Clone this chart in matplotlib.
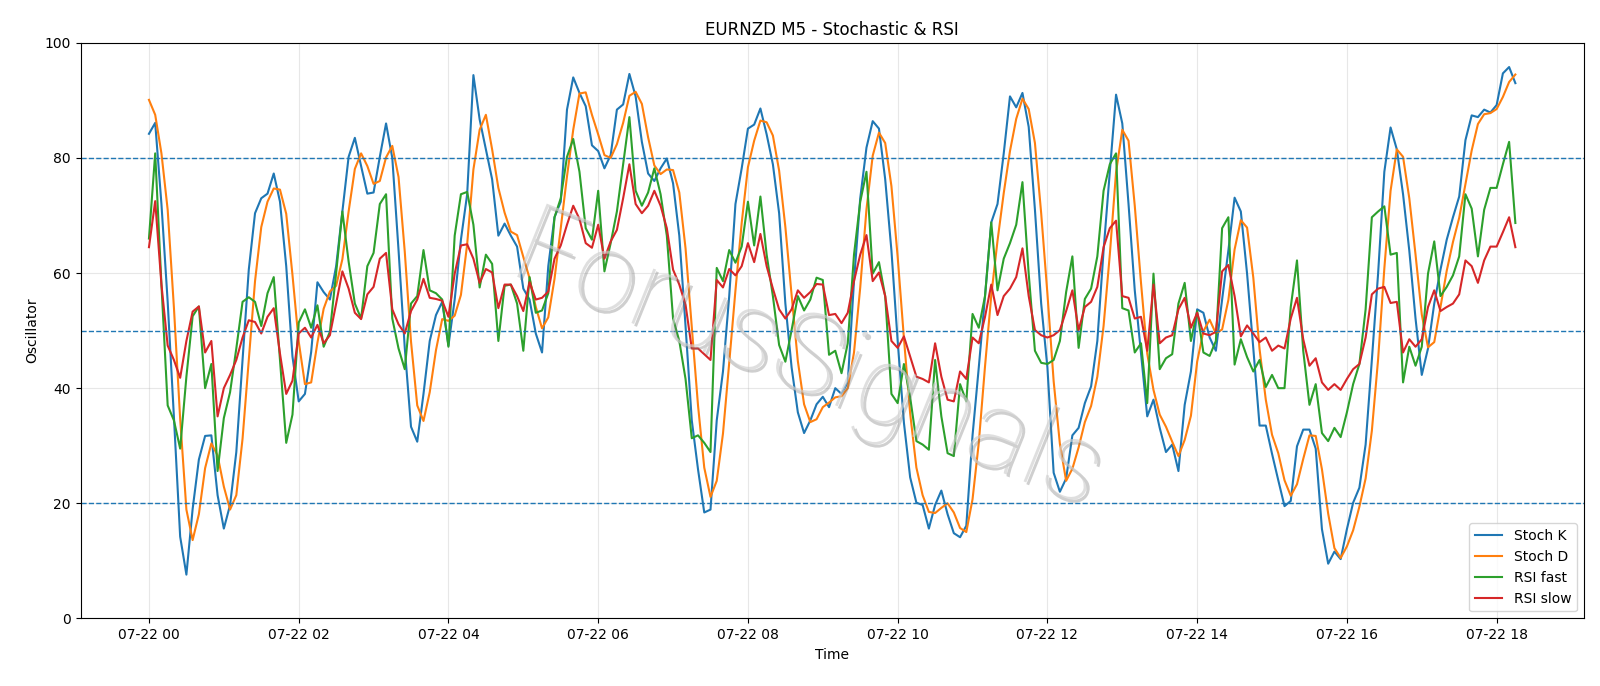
import numpy as np
import pandas as pd
import matplotlib
matplotlib.use("Agg")
import matplotlib.pyplot as plt
import matplotlib.dates as mdates
import matplotlib.patheffects as pe

start_time = "2024-07-22 00:00"
n_bars = 220

stoch_k = [
    84.2, 86.1, 72, 55, 35, 14.2, 7.6, 19, 27.6, 31.7, 31.8, 21.4, 15.6, 19.7, 28.9, 44.9, 60.6, 70.4, 73, 73.8,
    77.3, 72.4, 61.2, 45.5, 37.7, 39, 46.3, 58.4, 56.7, 55.4, 61.2, 70.7, 80.2, 83.5, 78.6, 73.8, 74, 80.2, 86, 80,
    64, 47, 33.3, 30.7, 39, 48.2, 52.7, 55, 47.4, 55.4, 65.8, 73.7, 94.4, 86.7, 81.5, 76.3, 66.5, 68.6, 66.5, 64.6,
    57.3, 55.4, 49.5, 46.2, 61.2, 69.7, 72.4, 88.4, 94, 91.3, 89, 82.2, 81.2, 78.2, 80.5, 88.4, 89.3, 94.6, 90.7, 82.8,
    77.3, 76, 78.2, 79.9, 75.6, 66.5, 50.8, 34.4, 25.9, 18.4, 18.9, 34.4, 42.9, 56, 72, 78.2, 85.1, 85.8, 88.6, 84.1,
    78.9, 70.4, 54.7, 43.6, 35.8, 32.2, 34.4, 37.2, 38.5, 36.7, 40, 39, 41, 58.6, 73, 81.8, 86.4, 85.1, 76.3, 63.9,
    48.2, 34, 24.5, 20.1, 19.7, 15.6, 19.7, 22.2, 18.1, 14.8, 14.1, 16.1, 31.8, 43.6, 56, 68.8, 72, 80.8, 90.7, 88.8,
    91.3, 85.4, 71, 54.7, 43.6, 25.3, 22, 24.3, 31.8, 33.1, 37.4, 40.3, 48.2, 63.9, 77.6, 91, 86, 72, 57, 46,
    35.1, 38, 33.1, 28.9, 30.2, 25.6, 37.1, 42.9, 53.7, 53.1, 48.8, 46.5, 55.4, 63.9, 73.1, 70.7, 59.9, 46.9, 33.5, 33.5,
    28.6, 24, 19.5, 20.4, 29.9, 32.8, 32.8, 29.5, 15.5, 9.5, 11.6, 10.3, 15.5, 20.1, 22.7, 30.2, 44.9, 59.9, 77.6, 85.3,
    81.5, 73.7, 63.9, 52.1, 42.3, 46.9, 54.7, 60.6, 65.8, 69.7, 73.3, 83.1, 87.4, 87.1, 88.4, 87.9, 89.2, 94.7, 95.8, 93,
]

stoch_d = [
    90.1, 87.5, 80.8, 71.0, 54.0, 34.7, 18.9, 13.6, 18.1, 26.1, 30.4, 28.3, 22.9, 18.9, 21.4, 31.2, 44.8, 58.6, 68.0, 72.4,
    74.7, 74.5, 70.3, 59.7, 48.1, 40.7, 41.0, 47.9, 53.8, 56.8, 57.8, 62.4, 70.7, 78.1, 80.8, 78.6, 75.5, 76.0, 80.1, 82.1,
    76.7, 63.7, 48.1, 37.0, 34.3, 39.3, 46.6, 52.0, 51.7, 52.6, 56.2, 65.0, 78.0, 84.9, 87.5, 81.5, 74.8, 70.5, 67.2, 66.6,
    62.8, 59.1, 54.1, 50.4, 52.3, 59.0, 67.8, 76.8, 84.9, 91.2, 91.4, 87.5, 84.1, 80.5, 80.0, 82.4, 86.1, 90.8, 91.5, 89.4,
    83.6, 78.7, 77.2, 78.0, 77.9, 74.0, 64.3, 50.6, 37.0, 26.2, 21.1, 23.9, 32.1, 44.4, 57.0, 68.7, 78.4, 83.0, 86.5, 86.2,
    83.9, 77.8, 68.0, 56.2, 44.7, 37.2, 34.1, 34.6, 36.7, 37.5, 38.4, 38.6, 40.0, 46.2, 57.5, 71.1, 80.4, 84.4, 82.6, 75.1,
    62.8, 48.7, 35.6, 26.2, 21.4, 18.5, 18.3, 19.2, 20.0, 18.4, 15.7, 15.0, 20.7, 30.5, 43.8, 56.1, 65.6, 73.9, 81.2, 86.8,
    90.3, 88.5, 82.6, 70.4, 56.4, 41.2, 30.3, 23.9, 26.0, 29.7, 34.1, 36.9, 42.0, 50.8, 63.2, 77.5, 84.9, 83.0, 71.7, 58.3,
    46.0, 39.7, 35.4, 33.3, 30.7, 28.2, 31.0, 35.2, 44.6, 49.9, 51.9, 49.5, 50.2, 55.3, 64.1, 69.2, 67.9, 59.2, 46.8, 38.0,
    31.9, 28.7, 24.0, 21.3, 23.3, 27.7, 31.8, 31.7, 25.9, 18.2, 12.2, 10.5, 12.5, 15.3, 19.4, 24.3, 32.6, 45.0, 60.8, 74.3,
    81.5, 80.2, 73.0, 63.2, 52.8, 47.1, 48.0, 54.1, 60.4, 65.4, 69.6, 75.4, 81.3, 85.9, 87.6, 87.8, 88.5, 90.6, 93.2, 94.5,
]

rsi_fast = [
    66, 80.8, 58, 37, 34.4, 29.5, 42, 52.5, 54.2, 40, 44.2, 25.6, 34.8, 39.3, 46.9, 55, 55.8, 55, 50.8, 56.5,
    59.3, 45, 30.5, 35.4, 51.4, 53.7, 50.5, 54.4, 47.2, 49.8, 60, 70.7, 62, 54.7, 52.1, 61.2, 63.5, 72, 73.7, 52.1,
    46.9, 43.3, 54.7, 56, 64, 57, 56.5, 55.4, 47.2, 66.5, 73.7, 74.1, 68.4, 57.5, 63.2, 61.6, 48.2, 57.8, 58, 54.7,
    46.5, 59.3, 53.1, 53.5, 56.5, 69.7, 73, 80.2, 83.3, 77.6, 67.8, 65.8, 74.3, 60.3, 65.2, 70.7, 78.9, 87.1, 74.3, 71.7,
    74, 78.2, 73.7, 66.5, 52.1, 48.2, 41.6, 31.3, 31.8, 30.5, 28.9, 60.9, 58.6, 64, 61.8, 64.6, 72.4, 64.8, 73.3, 63.2,
    56, 47.5, 44.6, 50.1, 56, 53.5, 55.4, 59.2, 58.8, 45.8, 46.5, 42.6, 47.8, 63.2, 72.4, 77.6, 59.9, 61.9, 56, 39,
    37.4, 44.2, 38.4, 30.8, 30.2, 29.3, 44.9, 35.1, 28.7, 28.2, 40.7, 37.7, 52.9, 50.5, 56, 68.8, 57, 62.5, 65.2, 68.4,
    75.8, 59.9, 46.5, 44.4, 44.2, 44.9, 48.2, 56.7, 62.9, 47, 55.5, 57.3, 62.9, 74.3, 78.9, 80.8, 53.9, 53.5, 46.2, 47.8,
    37.4, 59.9, 43.3, 45.2, 45.9, 54.7, 58.3, 48.2, 53.4, 46.2, 45.6, 48.2, 67.8, 69.7, 44.1, 48.5, 45.4, 42.9, 44.9, 40.2,
    42.3, 40, 40, 54.1, 62.2, 46.5, 37.1, 40.7, 32.2, 30.8, 33.1, 31.5, 35.8, 40.7, 44.2, 53.7, 69.7, 70.7, 71.6, 63.2,
    63.5, 41, 47.2, 43.9, 47.2, 59.9, 65.5, 56, 57.6, 59.6, 62.9, 73.7, 71.2, 62.9, 71, 74.8, 74.8, 78.9, 82.8, 68.7,
]

rsi_slow = [
    64.5, 72.5, 58, 47.4, 44.9, 41.8, 48.2, 53.3, 54.2, 46.2, 48.2, 35.1, 40, 42.3, 44.9, 48.8, 51.8, 51.5, 49.5, 52.4,
    53.9, 46, 39, 41.3, 49.5, 50.5, 48.8, 51, 47.8, 49.2, 54.7, 60.3, 57.3, 53.1, 52, 56.3, 57.6, 62.5, 63.5, 53.7,
    51.1, 49.5, 53.4, 55.4, 59, 55.7, 55.5, 55.2, 52.4, 59.9, 64.8, 65, 62.5, 58.3, 60.7, 60.1, 53.9, 58, 58, 56,
    53.4, 58.4, 55.4, 55.7, 56.8, 62.5, 64.8, 68.4, 71.7, 69.4, 65.2, 64.4, 68.4, 62.5, 65.5, 67.5, 73, 78.9, 72, 70.4,
    71.7, 74.3, 71.7, 67.8, 60.6, 58, 54.5, 46.9, 46.9, 45.9, 44.9, 58.8, 57.5, 60.7, 59.6, 61.2, 65.2, 61.9, 66.8, 61.2,
    57.3, 53.7, 52.1, 53.7, 57, 55.7, 56.7, 58.1, 58, 52.7, 52.9, 51.3, 53.1, 58.6, 63.2, 66.6, 58.6, 60.1, 56, 48.2,
    47, 49, 45.5, 42, 41.6, 41, 47.8, 42, 38, 37.7, 42.9, 41.6, 48.8, 47.8, 52.4, 58, 52.7, 56, 57.3, 59.3,
    64.3, 56, 50.1, 49.2, 48.8, 49.2, 50.1, 53.4, 57, 50.1, 54.1, 55, 57.6, 64.5, 67.8, 69.1, 56, 55.7, 52.1, 52.4,
    46.5, 58, 47.8, 48.8, 49.2, 53.7, 55.7, 50.5, 53.1, 49.5, 49.2, 49.8, 60.3, 61.4, 56, 49, 50.9, 49.5, 48, 48.8,
    46.5, 47.4, 46.9, 52.1, 55.7, 48.5, 43.9, 45.2, 41, 39.7, 40.7, 39.7, 41.6, 43.3, 44.2, 48.8, 56.3, 57.3, 57.6, 54.8,
    55, 46.2, 48.5, 47.2, 48.5, 54.1, 57, 53.4, 54.1, 54.7, 56.3, 62.2, 61.2, 58.3, 62.2, 64.6, 64.6, 67.1, 69.7, 64.5,
]

levels = [20, 50, 80]
series_labels = ["Stoch K", "Stoch D", "RSI fast", "RSI slow"]
title_text = "EURNZD M5 - Stochastic & RSI"
watermark_text = "ForusSignals"

times = pd.date_range(start_time, periods=n_bars, freq="5min")

fig = plt.figure(figsize=(16, 6.86), dpi=100)
ax = fig.add_axes([0.0504, 0.0986, 0.9394, 0.8389])

for vals, lab in zip([stoch_k, stoch_d, rsi_fast, rsi_slow], series_labels):
    ax.plot(times, vals, label=lab, linewidth=1.5)

for lv in levels:
    ax.axhline(lv, linestyle="--", linewidth=1.0, color="tab:blue")

ax.set_ylim(0, 100)
ax.grid(True, alpha=0.3)
ax.xaxis.set_major_locator(mdates.HourLocator(byhour=range(0, 24, 2)))
ax.xaxis.set_major_formatter(mdates.DateFormatter("%m-%d %H"))
ax.set_title(title_text, fontsize=12)
ax.set_xlabel("Time")
ax.set_ylabel("Oscillator")
ax.legend(loc="lower right")

ax.text(0.484, 0.445, watermark_text, transform=ax.transAxes, fontsize=80,
        rotation=-22, ha="center", va="center", color="#cfcfcf", alpha=0.65,
        family=["Roboto", "DejaVu Sans"], fontweight="light", zorder=10,
        path_effects=[pe.withSimplePatchShadow(offset=(2, -2), shadow_rgbFace="#777777", alpha=0.35)])

fig.savefig("out.png", dpi=100)
